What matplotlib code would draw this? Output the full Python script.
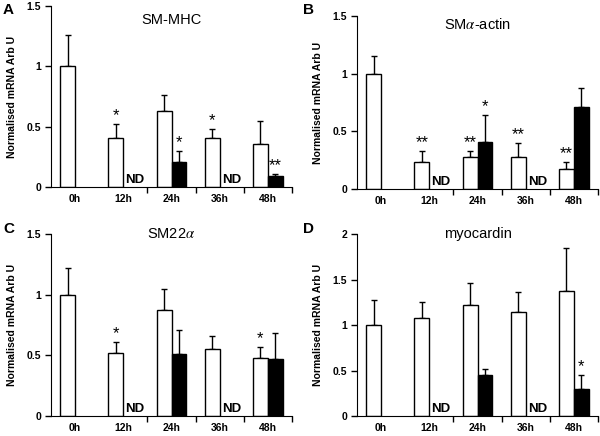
import numpy as np
import matplotlib
matplotlib.use('Agg')
import matplotlib.pyplot as plt

plt.rcParams['font.family'] = ['Liberation Sans', 'DejaVu Sans']
plt.rcParams['mathtext.fontset'] = 'stix'

# time points
times = ['0h', '12h', '24h', '36h', '48h']

# A - SM-MHC
a_white = [1.0, 0.41, 0.63, 0.41, 0.36]
a_white_sd = [0.26, 0.11, 0.13, 0.07, 0.19]
a_black = [np.nan, np.nan, 0.21, np.nan, 0.09]
a_black_sd = [0, 0, 0.09, 0, 0.02]
a_white_sig = ['', '*', '', '*', '']
a_black_sig = ['', '', '*', '', '**']

# B - SMalpha-actin
b_white = [1.0, 0.23, 0.28, 0.28, 0.17]
b_white_sd = [0.15, 0.10, 0.05, 0.12, 0.06]
b_black = [np.nan, np.nan, 0.41, np.nan, 0.71]
b_black_sd = [0, 0, 0.23, 0, 0.17]
b_white_sig = ['', '**', '**', '**', '**']
b_black_sig = ['', '', '*', '', '']

# C - SM22alpha
c_white = [1.0, 0.52, 0.87, 0.55, 0.48]
c_white_sd = [0.22, 0.09, 0.18, 0.11, 0.09]
c_black = [np.nan, np.nan, 0.51, np.nan, 0.47]
c_black_sd = [0, 0, 0.20, 0, 0.21]
c_white_sig = ['', '*', '', '', '*']
c_black_sig = ['', '', '', '', '']

# D - myocardin
d_white = [1.0, 1.08, 1.22, 1.14, 1.37]
d_white_sd = [0.27, 0.17, 0.24, 0.22, 0.48]
d_black = [np.nan, np.nan, 0.45, np.nan, 0.30]
d_black_sd = [0, 0, 0.07, 0, 0.15]
d_white_sig = ['', '', '', '', '']
d_black_sig = ['', '', '', '', '*']

# not detected time points
nd_times = ['12h', '36h']

fig = plt.figure(figsize=(6, 4.36), dpi=100)
W, H = 600, 436


def add_axes(left, top, right, bottom):
    return fig.add_axes([left / W, 1 - bottom / H, (right - left) / W, (bottom - top) / H])


def panel(ax, title, title_y, white, white_sd, black, black_sd, wsig, bsig, ymax, yticks, ylab):
    x = np.arange(len(times))
    bw = 0.31
    off = 0.155
    ax.bar(x - off, white, bw, color='white', edgecolor='black', linewidth=1, zorder=2)
    ax.errorbar(x - off, white, yerr=[np.zeros(len(x)), white_sd], fmt='none',
                ecolor='black', elinewidth=1, capsize=2.5, capthick=1, zorder=1)
    ax.bar(x + off, black, bw, color='black', edgecolor='black', linewidth=1, zorder=2)
    ax.errorbar(x + off, black, yerr=[np.zeros(len(x)), black_sd], fmt='none',
                ecolor='black', elinewidth=1, capsize=2.5, capthick=1, zorder=1)
    pad = ymax * 0.005
    for i in range(len(x)):
        if wsig[i]:
            ax.text(x[i] - off, white[i] + white_sd[i] + pad, wsig[i], ha='center',
                    va='bottom', fontsize=12)
        if bsig[i]:
            ax.text(x[i] + off, black[i] + black_sd[i] + pad, bsig[i], ha='center',
                    va='bottom', fontsize=12)
        if times[i] in nd_times:
            ax.text(x[i] + off + 0.09, ymax * 0.005, 'ND', ha='center', va='bottom',
                    fontsize=9.5, fontweight='bold')
    ax.set_xlim(-0.5, 4.5)
    ax.set_ylim(0, ymax)
    ax.set_yticks(yticks)
    ax.set_yticklabels(ylab, fontsize=7.5, fontweight='bold')
    ax.set_xticks(x[1:] + 0.5)
    ax.set_xticklabels([])
    ax.set_xticks(x, minor=True)
    ax.set_xticklabels(times, minor=True, fontsize=7.5, fontweight='bold')
    ax.tick_params(axis='x', which='minor', length=0, pad=5)
    ax.tick_params(axis='x', which='major', length=4, width=1, direction='out')
    ax.tick_params(axis='y', length=4, width=1, direction='out', pad=3)
    ax.spines['top'].set_visible(False)
    ax.spines['right'].set_visible(False)
    ax.set_ylabel('Normalised mRNA Arb U', fontsize=7.5, fontweight='bold', labelpad=7)
    ax.text(0.5, title_y, title, transform=ax.transAxes, ha='center', va='center', fontsize=10.5)
    return ax


axA = add_axes(51, 6, 292, 187)
panel(axA, 'SM-MHC', 0.92, a_white, a_white_sd, a_black, a_black_sd, a_white_sig, a_black_sig,
      1.5, [0, 0.5, 1, 1.5], ['0', '0.5', '1', '1.5'])

axB = add_axes(357, 16, 598, 189)
panel(axB, 'SM$\\alpha$-actin', 0.95, b_white, b_white_sd, b_black, b_black_sd, b_white_sig, b_black_sig,
      1.5, [0, 0.5, 1, 1.5], ['0', '0.5', '1', '1.5'])

axC = add_axes(51, 234, 292, 416)
panel(axC, 'SM22$\\alpha$', 1.0, c_white, c_white_sd, c_black, c_black_sd, c_white_sig, c_black_sig,
      1.5, [0, 0.5, 1, 1.5], ['0', '0.5', '1', '1.5'])

axD = add_axes(357, 234, 598, 416)
panel(axD, 'myocardin', 1.0, d_white, d_white_sd, d_black, d_black_sd, d_white_sig, d_black_sig,
      2.0, [0, 0.5, 1, 1.5, 2], ['0', '0.5', '1', '1.5', '2'])

# panel letters
for lab, px, py in [('A', 3, 10), ('B', 303, 10), ('C', 3, 229), ('D', 303, 229)]:
    fig.text(px / W, 1 - py / H, lab, fontsize=11, fontweight='bold', ha='left', va='center')

fig.savefig('out.png', dpi=100)
